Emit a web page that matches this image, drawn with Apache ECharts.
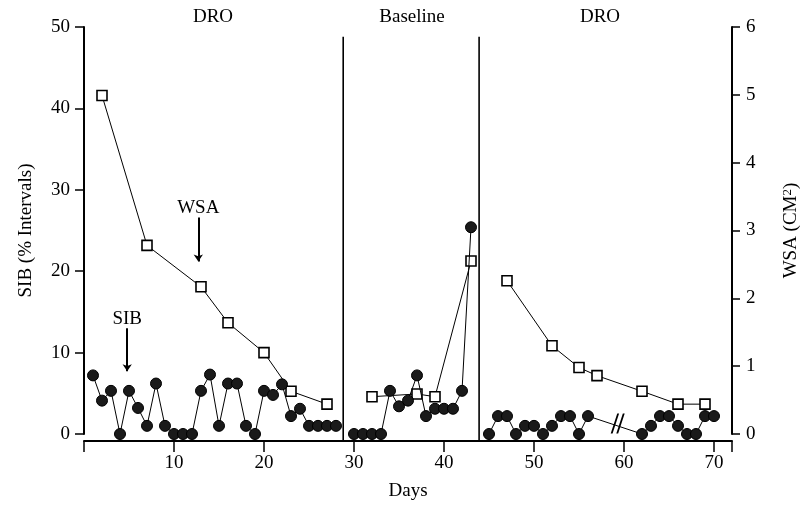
<!DOCTYPE html>
<html>
<head>
<meta charset="utf-8">
<script src="https://cdn.jsdelivr.net/npm/echarts@6/dist/echarts.min.js"></script>
<style>
  html, body { margin: 0; padding: 0; background: #fff; }
  #main { width: 805px; height: 508px; }
</style>
</head>
<body>
<div id="main"></div>
<script>
// SIB (% intervals), per phase
var sibDays1 = [1,2,3,4,5,6,7,8,9,10,11,12,13,14,15,16,17,18,19,20,21,22,23,24,25,26,27,28];
var sib1 = [7.2,4.1,5.3,0,5.3,3.2,1.0,6.2,1.0,0,0,0,5.3,7.3,1.0,6.2,6.2,1.0,0,5.3,4.8,6.1,2.2,3.1,1.0,1.0,1.0,1.0];
var sibDays2 = [30,31,32,33,34,35,36,37,38,39,40,41,42,43];
var sib2 = [0,0,0,0,5.3,3.4,4.1,7.2,2.2,3.1,3.1,3.1,5.3,25.4];
var sibDays3 = [45,46,47,48,49,50,51,52,53,54,55,56,62,63,64,65,66,67,68,69,70];
var sib3 = [0,2.2,2.2,0,1.0,1.0,0,1.0,2.2,2.2,0,2.2,0,1.0,2.2,2.2,1.0,0,0,2.2,2.2];

// WSA (cm2), per phase
var wsaDays1 = [2,7,13,16,20,23,27];
var wsa1 = [4.99,2.78,2.17,1.64,1.2,0.63,0.44];
var wsaDays2 = [32,37,39,43];
var wsa2 = [0.55,0.59,0.55,2.55];
var wsaDays3 = [47,52,55,57,62,66,69];
var wsa3 = [2.26,1.30,0.98,0.86,0.63,0.44,0.44];

var phaseChanges = [28.8, 43.9];
var phaseNames = ['DRO', 'Baseline', 'DRO'];
var xTicks = [10, 20, 30, 40, 50, 60, 70];

var font = 'Liberation Serif';

function pairs(xs, ys) {
  return xs.map(function (x, i) { return [x, ys[i]]; });
}

function sibSeries(xs, ys) {
  return {
    type: 'line', yAxisIndex: 0, data: pairs(xs, ys),
    symbol: 'circle', symbolSize: 11, z: 3,
    itemStyle: { color: '#1a1a1a', borderColor: '#000', borderWidth: 1 },
    lineStyle: { color: '#000', width: 1 }
  };
}
function wsaSeries(xs, ys) {
  return {
    type: 'line', yAxisIndex: 1, data: pairs(xs, ys),
    symbol: 'rect', symbolSize: 10, z: 2,
    itemStyle: { color: '#fff', borderColor: '#000', borderWidth: 1.6 },
    lineStyle: { color: '#000', width: 1 }
  };
}
// vertical phase change line, reaching down to the offset x axis
function phaseLine(d) {
  return {
    type: 'line', yAxisIndex: 0, clip: false, silent: true, symbol: 'none', z: 1,
    data: [[d, -0.9], [d, 48.8]],
    lineStyle: { color: '#000', width: 1.6 }
  };
}

var chart = echarts.init(document.getElementById('main'));

var s1 = sibSeries(sibDays1, sib1);
// arrows pointing to the two series
s1.markLine = {
  silent: true, animation: false,
  symbol: ['none', 'arrow'], symbolSize: 7,
  lineStyle: { color: '#000', width: 2, type: 'solid' },
  label: { show: true, position: 'start', distance: 0, color: '#000', fontFamily: font, fontSize: 19 },
  data: [
    [{ coord: [12.7, 26.6], name: 'WSA', label: { formatter: 'WSA' } }, { coord: [12.7, 21.2] }],
    [{ coord: [4.8, 13.0], name: 'SIB', label: { formatter: 'SIB' } }, { coord: [4.8, 7.7] }]
  ]
};
var s2 = sibSeries(sibDays2, sib2);
var s3 = sibSeries(sibDays3, sib3);
// axis break mark
s3.markPoint = {
  silent: true, animation: false,
  symbol: 'path://M7,0 L9,0 L2,20 L0,20 Z M13,0 L15,0 L8,20 L6,20 Z',
  symbolSize: [14, 20],
  itemStyle: { color: '#000' },
  label: { show: false },
  data: [{ coord: [59.3, 1.3] }]
};

chart.setOption({
  animation: false,
  grid: { left: 84, right: 73, top: 27, bottom: 74, containLabel: false, outerBoundsMode: 'none' },
  xAxis: {
    type: 'value', min: 0, max: 72, interval: 10,
    offset: 7,
    name: 'Days', nameLocation: 'middle', nameGap: 41,
    nameTextStyle: { fontFamily: font, fontSize: 19, color: '#000' },
    axisLine: { onZero: false, lineStyle: { color: '#000', width: 2 } },
    axisTick: { length: 11, lineStyle: { color: '#000', width: 1.5 } },
    axisLabel: {
      margin: 13, fontFamily: font, fontSize: 19, color: '#000',
      formatter: function (v) { return xTicks.indexOf(v) >= 0 ? String(v) : ''; }
    },
    splitLine: { show: false }
  },
  yAxis: [{
    type: 'value', min: 0, max: 50, interval: 10, position: 'left',
    name: 'SIB (% Intervals)', nameLocation: 'middle', nameGap: 48, nameRotate: 90,
    nameTextStyle: { fontFamily: font, fontSize: 19, color: '#000' },
    axisLine: { show: true, lineStyle: { color: '#000', width: 2 } },
    axisTick: { show: true, length: 9, lineStyle: { color: '#000', width: 1.5 } },
    axisLabel: { margin: 14, fontFamily: font, fontSize: 19, color: '#000' },
    splitLine: { show: false }
  }, {
    type: 'value', min: 0, max: 6, interval: 1, position: 'right',
    name: 'WSA (CM{sup|2})', nameLocation: 'middle', nameGap: 49, nameRotate: 90,
    nameTextStyle: {
      fontFamily: font, fontSize: 19, color: '#000',
      rich: { sup: { fontFamily: font, fontSize: 13, color: '#000', verticalAlign: 'bottom', padding: [0, 0, 8, 0] } }
    },
    axisLine: { show: true, lineStyle: { color: '#000', width: 2 } },
    axisTick: { show: true, length: 8, lineStyle: { color: '#000', width: 1.5 } },
    axisLabel: { margin: 14, fontFamily: font, fontSize: 19, color: '#000' },
    splitLine: { show: false }
  }],
  graphic: [
    { type: 'text', x: 213, y: 17, style: { text: phaseNames[0], font: '19px "' + font + '"', fill: '#000', align: 'center', verticalAlign: 'middle' } },
    { type: 'text', x: 412, y: 17, style: { text: phaseNames[1], font: '19px "' + font + '"', fill: '#000', align: 'center', verticalAlign: 'middle' } },
    { type: 'text', x: 600, y: 17, style: { text: phaseNames[2], font: '19px "' + font + '"', fill: '#000', align: 'center', verticalAlign: 'middle' } }
  ],
  series: [
    phaseLine(phaseChanges[0]), phaseLine(phaseChanges[1]),
    wsaSeries(wsaDays1, wsa1), wsaSeries(wsaDays2, wsa2), wsaSeries(wsaDays3, wsa3),
    s1, s2, s3
  ]
});
</script>
</body>
</html>
